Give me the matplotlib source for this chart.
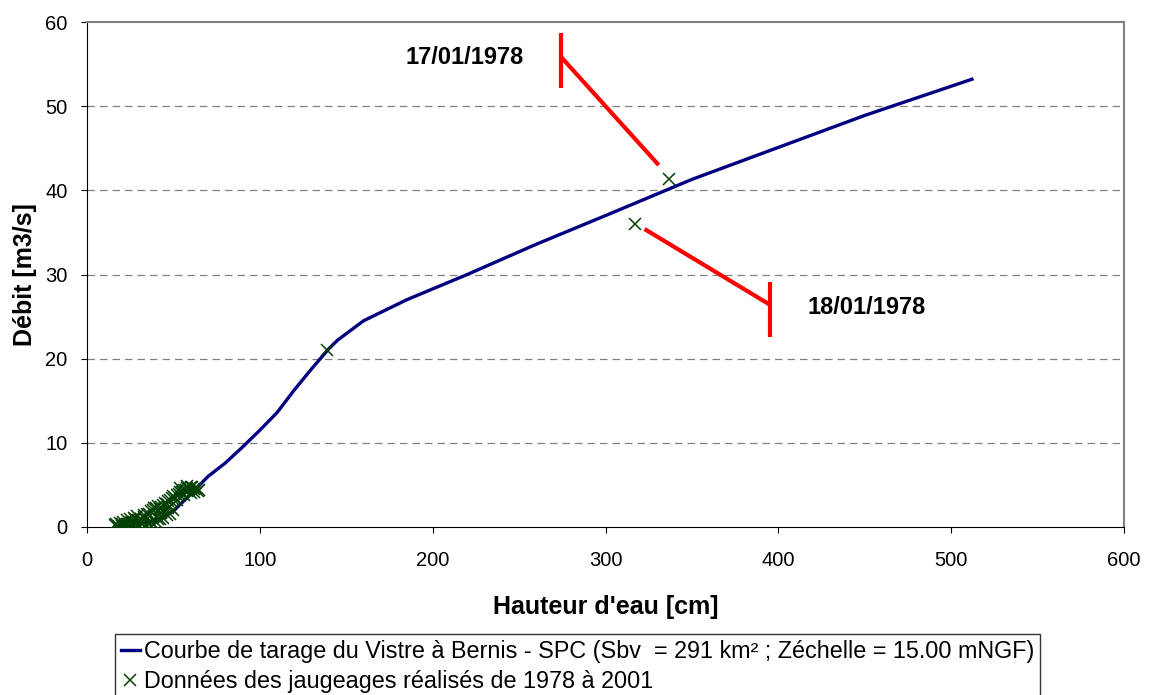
import matplotlib.pyplot as plt

plt.rcParams['font.family'] = ['Liberation Sans', 'DejaVu Sans']

#
##RATING CURVE (hauteur cm, debit m3/s)
curve_h = [20, 30, 40, 50, 60, 70, 80, 90, 100, 110, 120, 130, 140, 145, 160, 185,
           220, 260, 300, 350, 400, 450, 512]
curve_q = [0.1, 0.35, 0.8, 1.9, 3.9, 6.0, 7.6, 9.5, 11.5, 13.6, 16.3, 18.8, 21.2, 22.2,
           24.5, 27.0, 30.0, 33.6, 37.0, 41.3, 45.1, 48.9, 53.2]

#
##GAUGING DATA 1978-2001
gauge_h = [16, 17, 18, 19, 20, 21, 22, 23, 24, 25, 26, 27, 28, 29, 30, 31, 32, 33, 34,
           35, 36, 37, 38, 39, 40, 41, 42, 43, 44, 45, 46, 47, 48, 49, 50, 51, 52, 53,
           54, 55, 56, 57, 58, 59, 60, 61, 62, 63, 64, 65, 40, 42, 44, 46, 48, 50, 38,
           36, 34, 30, 28, 26, 24, 22, 20, 52, 56, 60, 62, 54, 58, 33, 37, 41, 43, 47,
           139, 336.5, 317]
gauge_q = [0.2, 0.3, 0.1, 0.5, 0.3, 0.6, 0.2, 0.8, 0.4, 0.9, 0.6, 1.1, 0.5, 1.3, 0.7, 1.0,
           0.4, 1.2, 0.8, 1.5, 1.6, 1.9, 2.0, 2.2, 2.3, 2.5, 2.1, 2.4, 2.6, 2.9, 2.7, 3.1,
           3.2, 3.4, 3.7, 3.5, 3.8, 3.9, 4.2, 4.2, 4.4, 4.4, 4.6, 4.5, 4.7, 4.7, 4.5, 4.6,
           4.3, 4.4, 0.6, 0.9, 1.1, 1.4, 1.6, 2.0, 0.4, 0.3, 0.2, 0.2, 0.9, 0.3, 0.2, 0.1,
           0.1, 3.2, 3.8, 4.0, 4.2, 4.6, 4.9, 1.4, 0.6, 0.9, 1.7, 2.2,
           21.0, 41.4, 36.0]

#
##ANNOTATION LEADERS (red)
lead1_h = [330.8, 274.5]
lead1_q = [43.0, 55.8]
bar1_q = [52.2, 58.7]
lead2_h = [322.6, 395.2]
lead2_q = [35.4, 26.4]
bar2_q = [22.6, 29.1]

fig = plt.figure(figsize=(11.5, 6.95), dpi=100)
ax = fig.add_axes([87/1150, 1-527/695, (1124-87)/1150, (527-22)/695])

ax.plot(curve_h, curve_q, color='#000080', lw=2.4, zorder=3,
        label="Courbe de tarage du Vistre à Bernis - SPC (Sbv  = 291 km² ; Zéchelle = 15.00 mNGF)")
ax.plot(gauge_h, gauge_q, ls='none', marker='x', ms=8.5, mew=1.1, color='#004000', zorder=4,
        label="Données des jaugeages réalisés de 1978 à 2001")

ax.plot(lead1_h, lead1_q, color='red', lw=3, solid_capstyle='butt')
ax.plot([lead1_h[1]]*2, bar1_q, color='red', lw=3, solid_capstyle='butt')
ax.plot(lead2_h, lead2_q, color='red', lw=3, solid_capstyle='butt')
ax.plot([lead2_h[1]]*2, bar2_q, color='red', lw=3, solid_capstyle='butt')

ax.text(184, 55.8, "17/01/1978", fontsize=17, fontweight='bold', va='center', ha='left')
ax.text(417, 26.1, "18/01/1978", fontsize=17, fontweight='bold', va='center', ha='left')

ax.set_xlim(0, 600)
ax.set_ylim(0, 60)
ax.set_xticks(range(0, 601, 100))
ax.set_yticks(range(0, 61, 10))
ax.tick_params(direction='out', length=4.5, labelsize=14.5, color='black')
ax.tick_params(axis='x', pad=12.5)
ax.tick_params(axis='y', pad=9.5)
for y in range(10, 60, 10):
    ax.axhline(y, color='#808080', lw=0.9, ls=(0, (6, 4)), zorder=1)

ax.spines['top'].set_color('#808080')
ax.spines['right'].set_color('#808080')
ax.spines['top'].set_linewidth(1.5)
ax.spines['right'].set_linewidth(1.5)

ax.set_xlabel("Hauteur d'eau [cm]", fontsize=18, fontweight='bold', labelpad=18)
ax.set_ylabel("Débit [m3/s]", fontsize=18, fontweight='bold', labelpad=6)

leg = fig.legend(loc='upper left', bbox_to_anchor=(115/1150, 1-634/695), fontsize=16.8,
                 frameon=True, fancybox=False, edgecolor='black', borderpad=0.25,
                 borderaxespad=0, handlelength=0.8, handletextpad=0.2, labelspacing=0.3)
leg.get_frame().set_linewidth(1.0)

fig.savefig('out.png', dpi=100)
